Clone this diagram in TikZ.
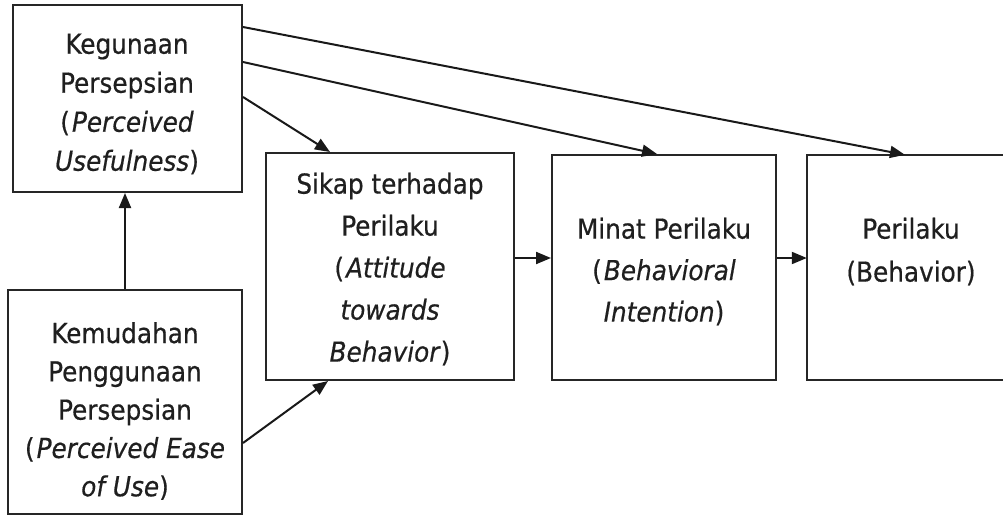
\documentclass[tikz,border=0pt]{standalone}
\usepackage{fontspec}
\setmainfont{DejaVu Sans Condensed}[FakeBold=0.5]
\usetikzlibrary{arrows.meta,calc}
\begin{document}
\begin{tikzpicture}[x=1pt,y=-1pt,
  box/.style={draw=black!85, line width=2pt, rectangle, inner sep=0pt},
  openbox/.style={rectangle, inner sep=0pt},
  lbl/.style={align=center, inner sep=0pt, text=black!88},
  arr/.style={draw=black!90, line width=2pt, -{Triangle[length=15pt,width=12pt]}}]
\clip (0,0) rectangle (1003,519);
\fill[white] (0,0) rectangle (1003,519);
% boxes
\node[box, minimum width=229pt, minimum height=187pt] (ku) at (127.5,98.5) {};
\node[box, minimum width=234pt, minimum height=224pt] (km) at (125,402) {};
\node[box, minimum width=248pt, minimum height=227pt] (sk) at (390,266.5) {};
\node[box, minimum width=224pt, minimum height=225pt] (mi) at (664,267.5) {};
\node[openbox, minimum width=203pt, minimum height=225pt] (pe) at (908.5,267.5) {};
\draw[black!85, line width=2pt] (pe.north east) -- (pe.north west) -- (pe.south west) -- (pe.south east);
% labels
\node[lbl, font=\fontsize{27.5}{39}\selectfont] (tku) at (127,104)
  {Kegunaan\\Persepsian\\(\kern2pt\textit{Perceived}\\\textit{Usefulness})};
\node[lbl, font=\fontsize{27.5}{38.3}\selectfont] (tkm) at (125,411)
  {Kemudahan\\Penggunaan\\Persepsian\\(\kern2pt\textit{Perceived Ease}\\\textit{of Use})};
\node[lbl, font=\fontsize{27.5}{42}\selectfont] (tsk) at (390,269)
  {Sikap terhadap\\Perilaku\\(\kern2pt\textit{Attitude}\\\textit{towards}\\\textit{Behavior})};
\node[lbl, font=\fontsize{27.5}{41.5}\selectfont] (tmi) at (664,271.5)
  {Minat Perilaku\\(\kern2pt\textit{Behavioral}\\\textit{Intention})};
\node[lbl, font=\fontsize{27.5}{43}\selectfont] (tpe) at (911,251.5)
  {Perilaku\\(Behavior)};
% connectors
\draw[arr] (km.north) -- (km.north |- ku.south);
\draw[arr] (km.east |- 0,443) -- (sk.south -| 328,0);
\draw[arr] (ku.east |- 0,97) -- (sk.north -| 330,0);
\draw[arr] (ku.east |- 0,62) -- (mi.north -| 657,0);
\draw[arr] (ku.east |- 0,27) -- (pe.north -| 905,0);
\draw[arr] (sk.east |- 0,258) -- (mi.west |- 0,258);
\draw[arr] (mi.east |- 0,258) -- (pe.west |- 0,258);
\end{tikzpicture}
\end{document}
